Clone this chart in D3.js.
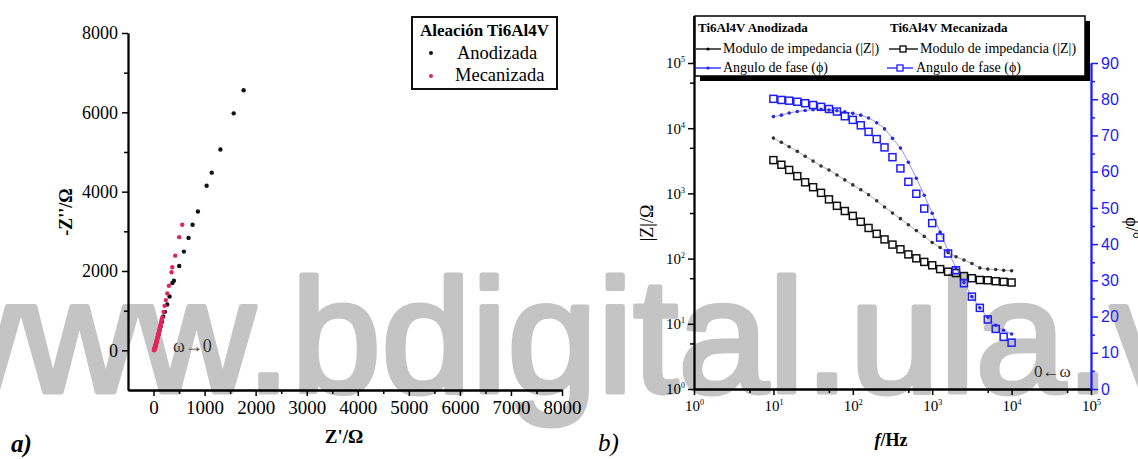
<!DOCTYPE html>
<html>
<head>
<meta charset="utf-8">
<script src="https://cdn.jsdelivr.net/npm/d3@7"></script>
<style>
  body { margin: 0; background: #fff; }
  svg { display: block; }
</style>
</head>
<body>
<div id="wrapper"></div>
<script>
// ---- panel a) Nyquist data: [Z', -Z''] in ohm
const nyqAnodizada = [
  [1765, 6557], [1570, 5975], [1310, 5063], [1140, 4480], [1040, 4150],
  [869, 3501], [765, 3165], [686, 2835], [595, 2489], [503, 2127],
  [399, 1755], [370, 1700], [314, 1359], [268, 1157], [222, 970],
  [190, 853], [165, 720], [140, 600], [120, 500], [100, 410],
  [85, 340], [70, 270], [58, 210], [48, 160], [40, 120],
  [33, 90], [28, 65], [24, 48], [21, 35], [19, 25]
];
const nyqMecanizada = [
  [562, 3165], [503, 2853], [425, 2387], [366, 2093], [353, 1967],
  [301, 1628], [268, 1435], [242, 1266], [216, 1122], [196, 970],
  [170, 827], [160, 770], [155, 740], [148, 695], [140, 650], [132, 610],
  [125, 570], [118, 535], [112, 500], [106, 465], [100, 430], [94, 400],
  [88, 370], [83, 342], [78, 315], [73, 290], [68, 265], [64, 242],
  [60, 220], [56, 200], [52, 180], [48, 162], [45, 145], [41, 130],
  [38, 115], [35, 102], [32, 90], [29, 78], [27, 68], [25, 58],
  [23, 50], [21, 43], [19, 36], [17, 30], [16, 25], [14, 20],
  [13, 16], [12, 13], [11, 10], [10, 7], [9, 5]
];
const nyqXTicks = [0, 1000, 2000, 3000, 4000, 5000, 6000, 7000, 8000];
const nyqXMinor = [500, 1500, 2500, 3500, 4500, 5500, 6500, 7500];
const nyqYTicks = [0, 2000, 4000, 6000, 8000];
const nyqYMinor = [1000, 3000, 5000, 7000];

// ---- panel b) Bode data
const freqs = [10, 12.6, 15.8, 20, 25.1, 31.6, 39.8, 50.1, 63.1, 79.4,
  100, 126, 158, 200, 251, 316, 398, 501, 631, 794,
  1000, 1259, 1585, 1995, 2512, 3162, 3981, 5012, 6310, 7943, 10000];
const anodModulus = [7050, 6070, 5200, 4415, 3720, 3130, 2630, 2290, 1920, 1610,
  1350, 1140, 955, 769, 617, 501, 410, 331, 269, 219,
  177, 148, 124, 107, 95, 84, 72, 69, 68, 66, 65];
const anodPhase = [75.2, 75.6, 76.2, 76.6, 76.9, 77.1, 77.2, 77.0, 76.8, 76.5,
  76.1, 75.6, 74.8, 73.5, 71.8, 69.2, 66.5, 62.6, 58.2, 53.5,
  48.5, 43.3, 38.2, 33.4, 29.4, 25.5, 22.4, 19.8, 17.6, 16.2, 15.2];
const mecModulus = [3240, 2750, 2290, 1840, 1480, 1245, 1020, 810, 645, 537,
  452, 367, 295, 240, 197, 164, 139, 116, 101, 89,
  79, 69, 63, 60, 54, 50, 47, 46.5, 45, 44, 43];
const mecPhase = [80.1, 79.8, 79.6, 79.3, 78.9, 78.4, 77.9, 77.3, 76.6, 75.3,
  74.3, 72.8, 71.0, 69.0, 66.7, 64.0, 60.9, 57.2, 53.9, 49.8,
  45.8, 41.8, 37.4, 32.8, 29.2, 25.5, 22.4, 19.2, 16.6, 14.4, 12.8];
const bodeTicks = [1, 10, 100, 1000, 10000, 100000];
const bodeMinor = [5, 50, 500, 5000, 50000];
const phaseTicks = [0, 10, 20, 30, 40, 50, 60, 70, 80, 90];
const phaseMinor = [5, 15, 25, 35, 45, 55, 65, 75, 85];

function drawChart() {
  const width = 1138;
  const height = 459;
  const serif = "'Liberation Serif', 'Times New Roman', serif";
  const sans = "'Liberation Sans', Arial, sans-serif";
  const blue = "#1c1cff";
  const red = "#e6245c";

  const svg = d3.select("#wrapper")
    .append("svg")
    .attr("width", width)
    .attr("height", height);

  // watermark sits under everything
  svg.append("text")
    .attr("x", -96)
    .attr("y", 392)
    .attr("font-family", sans)
    .attr("font-size", 162)
    .attr("fill", "#c4c4c4")
    .attr("stroke", "#c4c4c4")
    .attr("stroke-width", 5)
    .attr("stroke-linejoin", "round")
    .text("www.bdigital.ula.ve");

  // ================= a) Nyquist =================
  const xN = d3.scaleLinear().domain([-500, 8000]).range([128, 562]);
  const yN = d3.scaleLinear().domain([-1000, 8000]).range([390, 33]);

  const styleAxis = (g, size, family) => {
    g.attr("font-family", family).attr("font-size", size);
    g.select(".domain").attr("stroke-width", 1.8);
    g.selectAll(".tick line").attr("stroke-width", 1.5);
  };

  svg.append("g")
    .attr("transform", "translate(0,390)")
    .call(d3.axisBottom(xN).tickValues(nyqXMinor).tickSize(4).tickSizeOuter(0).tickFormat(""))
    .call(g => styleAxis(g, 19, serif));
  svg.append("g")
    .attr("transform", "translate(0,390)")
    .call(d3.axisBottom(xN).tickValues(nyqXTicks).tickSize(6).tickSizeOuter(0).tickPadding(5)
      .tickFormat(d3.format("d")))
    .call(g => styleAxis(g, 19, serif));

  svg.append("g")
    .attr("transform", "translate(128,0)")
    .call(d3.axisLeft(yN).tickValues(nyqYMinor).tickSize(4).tickSizeOuter(0).tickFormat(""))
    .call(g => styleAxis(g, 18, serif));
  svg.append("g")
    .attr("transform", "translate(128,0)")
    .call(d3.axisLeft(yN).tickValues(nyqYTicks).tickSize(6).tickSizeOuter(0).tickPadding(4)
      .tickFormat(d3.format("d")))
    .call(g => styleAxis(g, 18, serif));

  svg.append("g").selectAll("circle")
    .data(nyqAnodizada)
    .join("circle")
    .attr("cx", d => xN(d[0]))
    .attr("cy", d => yN(d[1]))
    .attr("r", 2.2)
    .attr("fill", "#111");

  svg.append("g").selectAll("circle")
    .data(nyqMecanizada)
    .join("circle")
    .attr("cx", d => xN(d[0]))
    .attr("cy", d => yN(d[1]))
    .attr("r", 2.2)
    .attr("fill", red);

  // legend a)
  const legA = svg.append("g");
  legA.append("rect")
    .attr("x", 412).attr("y", 17).attr("width", 145).attr("height", 72)
    .attr("fill", "#fff").attr("stroke", "#111").attr("stroke-width", 2);
  legA.append("text")
    .attr("x", 484.5).attr("y", 36).attr("text-anchor", "middle")
    .attr("font-family", serif).attr("font-weight", "bold").attr("font-size", 17)
    .text("Aleación Ti6Al4V");
  legA.append("circle").attr("cx", 431).attr("cy", 53).attr("r", 2).attr("fill", "#111");
  legA.append("text")
    .attr("x", 457).attr("y", 59)
    .attr("font-family", serif).attr("font-size", 18.5)
    .text("Anodizada");
  legA.append("circle").attr("cx", 431).attr("cy", 76).attr("r", 2).attr("fill", red);
  legA.append("text")
    .attr("x", 455).attr("y", 81)
    .attr("font-family", serif).attr("font-size", 18.5)
    .text("Mecanizada");

  svg.append("text")
    .attr("x", 173).attr("y", 352)
    .attr("font-family", serif).attr("font-size", 18).attr("fill", "#333")
    .text("ω→0");

  svg.append("text")
    .attr("transform", "translate(72,212) rotate(-90)")
    .attr("text-anchor", "middle")
    .attr("font-family", serif).attr("font-weight", "bold").attr("font-size", 18)
    .text("-Z''/Ω");
  svg.append("text")
    .attr("x", 344).attr("y", 443).attr("text-anchor", "middle")
    .attr("font-family", serif).attr("font-weight", "bold").attr("font-size", 19)
    .text("Z'/Ω");
  svg.append("text")
    .attr("x", 11).attr("y", 452)
    .attr("font-family", serif).attr("font-weight", "bold").attr("font-style", "italic")
    .attr("font-size", 25)
    .text("a)");

  // ================= b) Bode =================
  const xB = d3.scaleLog().domain([1, 1e5]).range([694, 1091]);
  const yZ = d3.scaleLog().domain([1, 1e5]).range([389, 63]);
  const yP = d3.scaleLinear().domain([0, 90]).range([389, 63]);

  const powerLabels = (g, sup) => {
    g.selectAll(".tick text").each(function (d) {
      const t = d3.select(this).text(null);
      t.append("tspan").text("10");
      t.append("tspan")
        .attr("dy", sup)
        .attr("font-size", 8)
        .text(Math.round(Math.log10(d)));
    });
  };

  svg.append("g")
    .attr("transform", "translate(0,389)")
    .call(d3.axisBottom(xB).tickValues(bodeMinor).tickSize(4).tickSizeOuter(0).tickFormat(""))
    .call(g => styleAxis(g, 15, serif));
  svg.append("g")
    .attr("transform", "translate(0,389)")
    .call(d3.axisBottom(xB).tickValues(bodeTicks).tickSize(6).tickSizeOuter(0).tickPadding(5))
    .call(g => styleAxis(g, 15, serif))
    .call(g => powerLabels(g, -6));

  svg.append("line")
    .attr("x1", 694).attr("x2", 694).attr("y1", 16).attr("y2", 63)
    .attr("stroke", "#000").attr("stroke-width", 1.8);
  svg.append("g")
    .attr("transform", "translate(694,0)")
    .call(d3.axisLeft(yZ).tickValues(bodeMinor).tickSize(4).tickSizeOuter(0).tickFormat(""))
    .call(g => styleAxis(g, 15, serif));
  svg.append("g")
    .attr("transform", "translate(694,0)")
    .call(d3.axisLeft(yZ).tickValues(bodeTicks).tickSize(6).tickSizeOuter(0).tickPadding(3))
    .call(g => styleAxis(g, 15, serif))
    .call(g => powerLabels(g, -6));

  svg.append("g")
    .attr("transform", "translate(1091,0)")
    .attr("color", blue)
    .call(d3.axisRight(yP).tickValues(phaseMinor).tickSize(4).tickSizeOuter(0).tickFormat(""))
    .call(g => styleAxis(g, 16, sans));
  svg.append("g")
    .attr("transform", "translate(1091,0)")
    .attr("color", blue)
    .call(d3.axisRight(yP).tickValues(phaseTicks).tickSize(7).tickSizeOuter(0).tickPadding(3))
    .call(g => styleAxis(g, 16, sans));

  const anodZ = freqs.map((f, i) => ({ f, v: anodModulus[i] }));
  const anodP = freqs.map((f, i) => ({ f, v: anodPhase[i] }));
  const mecZ = freqs.map((f, i) => ({ f, v: mecModulus[i] }));
  const mecP = freqs.map((f, i) => ({ f, v: mecPhase[i] }));

  const lineZ = d3.line().x(d => xB(d.f)).y(d => yZ(d.v)).curve(d3.curveMonotoneX);
  const lineP = d3.line().x(d => xB(d.f)).y(d => yP(d.v)).curve(d3.curveMonotoneX);

  svg.append("path").datum(anodZ)
    .attr("d", lineZ).attr("fill", "none")
    .attr("stroke", "#999").attr("stroke-width", 0.8);
  svg.append("path").datum(anodP)
    .attr("d", lineP).attr("fill", "none")
    .attr("stroke", "#9090ff").attr("stroke-width", 1);

  const sq = 7;
  svg.append("g").selectAll("rect")
    .data(mecZ)
    .join("rect")
    .attr("x", d => xB(d.f) - sq / 2)
    .attr("y", d => yZ(d.v) - sq / 2)
    .attr("width", sq).attr("height", sq)
    .attr("fill", "none").attr("stroke", "#111").attr("stroke-width", 1.5);
  svg.append("g").selectAll("rect")
    .data(mecP)
    .join("rect")
    .attr("x", d => xB(d.f) - sq / 2)
    .attr("y", d => yP(d.v) - sq / 2)
    .attr("width", sq).attr("height", sq)
    .attr("fill", "none").attr("stroke", blue).attr("stroke-width", 1.5);

  svg.append("g").selectAll("circle")
    .data(anodZ)
    .join("circle")
    .attr("cx", d => xB(d.f))
    .attr("cy", d => yZ(d.v))
    .attr("r", 1.8)
    .attr("fill", "#333");
  svg.append("g").selectAll("circle")
    .data(anodP)
    .join("circle")
    .attr("cx", d => xB(d.f))
    .attr("cy", d => yP(d.v))
    .attr("r", 1.8)
    .attr("fill", "#2a2ae0");

  // legend b)
  const legB = svg.append("g");
  legB.append("rect")
    .attr("x", 700).attr("y", 21).attr("width", 390).attr("height", 60)
    .attr("fill", "#000");
  legB.append("rect")
    .attr("x", 695).attr("y", 16).attr("width", 390).attr("height", 60)
    .attr("fill", "#fff").attr("stroke", "#000").attr("stroke-width", 1.5);

  const legText = (x, y, txt, bold) => legB.append("text")
    .attr("x", x).attr("y", y)
    .attr("font-family", serif).attr("font-size", bold ? 13 : 14)
    .attr("font-weight", bold ? "bold" : "normal")
    .text(txt);
  const legLine = (x1, x2, y, color) => legB.append("line")
    .attr("x1", x1).attr("x2", x2).attr("y1", y).attr("y2", y)
    .attr("stroke", color).attr("stroke-width", 1.3);

  legText(698, 32, "Ti6Al4V Anodizada", true);
  legText(890, 32, "Ti6Al4V  Mecanizada", true);

  legLine(696, 721, 49, "#000");
  legB.append("circle").attr("cx", 708).attr("cy", 49).attr("r", 1.6).attr("fill", "#000");
  legText(723, 53, "Modulo de impedancia (|Z|)", false);
  legLine(696, 721, 68, blue);
  legB.append("circle").attr("cx", 708).attr("cy", 68).attr("r", 1.6).attr("fill", blue);
  legText(723, 72, "Angulo de fase (ϕ)", false);

  legLine(889, 918, 49, "#000");
  legB.append("rect").attr("x", 900).attr("y", 46).attr("width", 6).attr("height", 6)
    .attr("fill", "#fff").attr("stroke", "#000").attr("stroke-width", 1.3);
  legText(920, 53, "Modulo de impedancia (|Z|)", false);
  legLine(887, 913, 68, blue);
  legB.append("rect").attr("x", 897).attr("y", 65).attr("width", 6).attr("height", 6)
    .attr("fill", "#fff").attr("stroke", blue).attr("stroke-width", 1.3);
  legText(916, 72, "Angulo de fase (ϕ)", false);

  svg.append("text")
    .attr("x", 1034).attr("y", 377)
    .attr("font-family", serif).attr("font-size", 17).attr("fill", "#333")
    .text("0←ω");

  svg.append("text")
    .attr("transform", "translate(653,223) rotate(-90)")
    .attr("text-anchor", "middle")
    .attr("font-family", serif).attr("font-size", 18)
    .text("|Z|/Ω");

  svg.append("text")
    .attr("transform", "translate(1126,228) rotate(90)")
    .attr("text-anchor", "middle")
    .attr("font-family", serif).attr("font-size", 18)
    .text("ϕ/°");

  const fl = svg.append("text")
    .attr("x", 891).attr("y", 446).attr("text-anchor", "middle")
    .attr("font-family", serif).attr("font-weight", "bold").attr("font-size", 18);
  fl.append("tspan").attr("font-style", "italic").text("f");
  fl.append("tspan").text("/Hz");

  svg.append("text")
    .attr("x", 598).attr("y", 451)
    .attr("font-family", serif).attr("font-style", "italic")
    .attr("font-size", 25)
    .text("b)");
}

drawChart();
</script>
</body>
</html>
